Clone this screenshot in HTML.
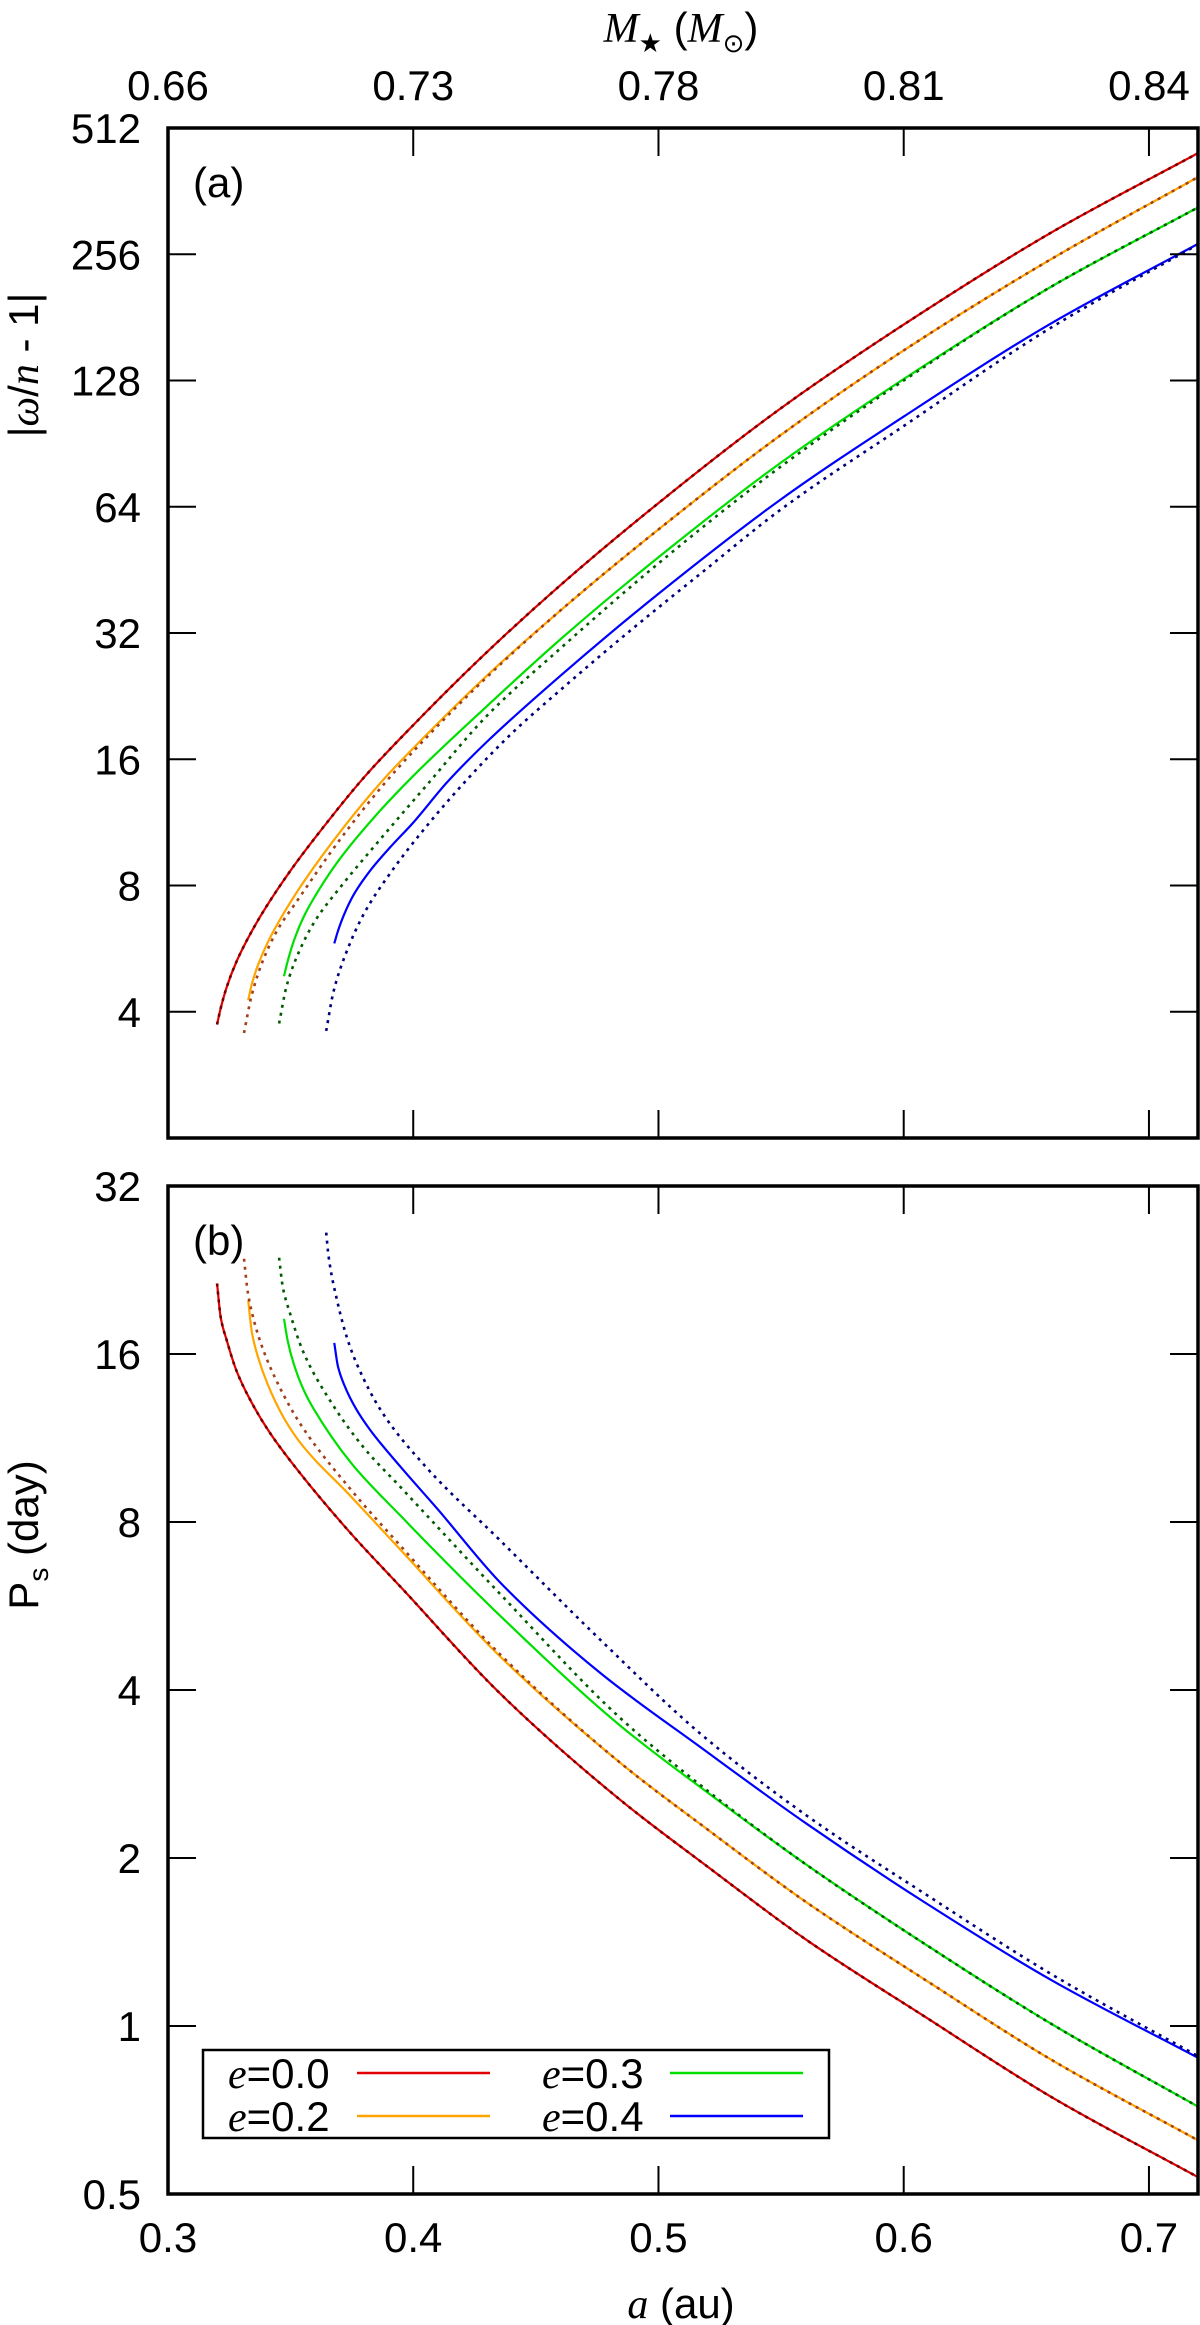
<!DOCTYPE html>
<html><head><meta charset="utf-8"><style>
html,body{margin:0;padding:0;background:#fff;}
svg{display:block;font-family:"Liberation Sans",sans-serif;}
.tk{font-size:42px;fill:#000;}
.it{font-family:"Liberation Serif","DejaVu Serif",serif;font-style:italic;}
</style></head><body>
<svg id="chart" width="1200" height="2325" viewBox="0 0 1200 2325" xmlns="http://www.w3.org/2000/svg">
<rect x="0" y="0" width="1200" height="2325" fill="#fff"/>
<g id="marks"></g>
<g id="axes"></g>
<text x="681" y="42" text-anchor="middle" font-size="42"><tspan class="it">M</tspan><tspan font-size="26" dy="10">★</tspan><tspan dy="-10"> (</tspan><tspan class="it">M</tspan><tspan font-size="26" dy="10">⊙</tspan><tspan dy="-10">)</tspan></text>
<text x="681" y="2318" text-anchor="middle" font-size="42"><tspan class="it">a</tspan> (au)</text>
<text transform="translate(38,365) rotate(-90)" text-anchor="middle" font-size="42">|<tspan class="it">ω</tspan>/<tspan class="it">n</tspan> - 1|</text>
<text transform="translate(38,1535) rotate(-90)" text-anchor="middle" font-size="42">P<tspan font-size="28" dy="10">s</tspan><tspan dy="-10"> (day)</tspan></text>
<text x="193" y="197" font-size="42">(a)</text>
<text x="193" y="1255" font-size="42">(b)</text>
<g>
<rect x="203" y="2050" width="626" height="88" fill="#fff" stroke="#000" stroke-width="2.5"/>
<text x="228" y="2088" font-size="42"><tspan class="it">e</tspan>=0.0</text>
<line x1="357" y1="2073" x2="490" y2="2073" stroke="#e00000" stroke-width="2.5"/>
<text x="228" y="2131" font-size="42"><tspan class="it">e</tspan>=0.2</text>
<line x1="357" y1="2116" x2="490" y2="2116" stroke="#ffa500" stroke-width="2.5"/>
<text x="542" y="2088" font-size="42"><tspan class="it">e</tspan>=0.3</text>
<line x1="670" y1="2073" x2="803" y2="2073" stroke="#00e000" stroke-width="2.5"/>
<text x="542" y="2131" font-size="42"><tspan class="it">e</tspan>=0.4</text>
<line x1="670" y1="2116" x2="803" y2="2116" stroke="#0000ff" stroke-width="2.5"/>
</g>
</svg>
<script>
// ---- data ----
const xTicks = [0.3, 0.4, 0.5, 0.6, 0.7];
const xTickLabels = ["0.3", "0.4", "0.5", "0.6", "0.7"];
const topTickLabels = ["0.66", "0.73", "0.78", "0.81", "0.84"];
const yTicksA = [512, 256, 128, 64, 32, 16, 8, 4];
const yTicksB = [32, 16, 8, 4, 2, 1, 0.5];
// panel (a) |w/n-1|
const aRedA = [0.32, 0.3215, 0.324, 0.328, 0.3348, 0.34, 0.35, 0.36, 0.38, 0.40, 0.43, 0.46, 0.50, 0.55, 0.60, 0.66, 0.72];
const vRedA = [3.73, 4.08, 4.59, 5.28, 6.32, 7.11, 8.69, 10.4, 14.5, 19.3, 28.8, 41.6, 65.3, 110, 174, 288, 446];
const aOrangeA = [0.3327, 0.3342, 0.3367, 0.3407, 0.3475, 0.355, 0.372, 0.3878, 0.40, 0.43, 0.46, 0.50, 0.55, 0.60, 0.66, 0.72];
const vOrangeA = [4.26, 4.66, 5.17, 5.86, 6.92, 8.11, 11.08, 14.3, 17.0, 25.3, 36.2, 56.5, 95, 151, 249, 391];
const aOrangeDotA = [0.331, 0.334, 0.339, 0.345, 0.352, 0.37, 0.3878, 0.40, 0.43, 0.46, 0.50, 0.55, 0.60, 0.66, 0.72];
const vOrangeDotA = [3.56, 4.35, 5.35, 6.32, 7.26, 10.27, 13.9, 16.7, 25.1, 36.2, 56.5, 95, 151, 249, 391];
const aGreenA = [0.3473, 0.3488, 0.3513, 0.3553, 0.362, 0.37, 0.385, 0.40, 0.43, 0.46, 0.50, 0.55, 0.60, 0.66, 0.72];
const vGreenA = [4.86, 5.28, 5.90, 6.73, 7.89, 9.25, 11.8, 14.6, 21.4, 30.9, 48.5, 81.6, 129, 214, 331];
const aGreenDotA = [0.3453, 0.3483, 0.3533, 0.36, 0.37, 0.385, 0.4056, 0.43, 0.46, 0.50, 0.55, 0.60, 0.66, 0.72];
const vGreenDotA = [3.75, 4.59, 5.54, 6.59, 7.89, 10.06, 13.9, 20.3, 29.4, 46.9, 79.9, 128, 214, 331];
const aBlueA = [0.3678, 0.3693, 0.3718, 0.3758, 0.3825, 0.39, 0.40, 0.4138, 0.43, 0.46, 0.50, 0.55, 0.60, 0.66, 0.72];
const vBlueA = [5.82, 6.23, 6.82, 7.62, 8.69, 9.78, 11.3, 14.1, 17.6, 25.3, 39.7, 66.7, 105, 175, 271];
const aBlueDotA = [0.3645, 0.3675, 0.3725, 0.38, 0.39, 0.405, 0.4219, 0.44, 0.46, 0.4898, 0.5171, 0.55, 0.60, 0.66, 0.72];
const vBlueDotA = [3.6, 4.47, 5.50, 6.87, 8.46, 11.0, 14.3, 18.4, 23.4, 32.9, 44.3, 63.1, 99.7, 171, 270];
// panel (b) Ps (day)
const aRedB = [0.32, 0.3215, 0.324, 0.328, 0.3345, 0.3416, 0.3539, 0.3747, 0.3947, 0.4355, 0.4845, 0.52, 0.56, 0.61, 0.66, 0.72];
const vRedB = [21.4, 18.6, 16.9, 14.9, 13.0, 11.55, 9.78, 7.62, 6.13, 3.94, 2.54, 1.93, 1.43, 1.03, 0.747, 0.536];
const aOrangeB = [0.3327, 0.3342, 0.3367, 0.3407, 0.3472, 0.3539, 0.3747, 0.3947, 0.4355, 0.4845, 0.52, 0.56, 0.61, 0.66, 0.72];
const vOrangeB = [19.97, 17.5, 15.8, 14.1, 12.3, 11.1, 8.88, 7.14, 4.59, 2.96, 2.25, 1.67, 1.20, 0.871, 0.624];
const aOrangeDotB = [0.331, 0.3325, 0.335, 0.339, 0.345, 0.3539, 0.3747, 0.3947, 0.4355, 0.4845, 0.52, 0.56, 0.61, 0.66, 0.72];
const vOrangeDotB = [23.7, 20.7, 18.4, 16.2, 14.1, 12.0, 9.13, 7.26, 4.63, 2.96, 2.25, 1.67, 1.20, 0.871, 0.624];
const aGreenB = [0.3473, 0.3488, 0.3513, 0.3553, 0.3592, 0.3747, 0.3947, 0.4355, 0.4845, 0.52, 0.56, 0.61, 0.66, 0.72];
const vGreenB = [18.5, 16.9, 15.35, 13.8, 12.8, 10.2, 8.22, 5.43, 3.45, 2.62, 1.95, 1.39, 1.01, 0.717];
const aGreenDotB = [0.3453, 0.3468, 0.3498, 0.355, 0.3661, 0.38, 0.3947, 0.4355, 0.4845, 0.52, 0.56, 0.61, 0.66, 0.72];
const vGreenDotB = [23.8, 21.1, 18.9, 16.2, 13.2, 10.85, 9.25, 5.94, 3.56, 2.64, 1.95, 1.39, 1.01, 0.717];
const aBlueB = [0.3678, 0.3693, 0.3718, 0.3765, 0.3824, 0.3947, 0.4097, 0.4355, 0.4763, 0.5171, 0.56, 0.61, 0.66, 0.72];
const vBlueB = [16.75, 15.2, 14.1, 12.8, 11.7, 10.06, 8.46, 6.23, 4.29, 3.16, 2.31, 1.65, 1.21, 0.877];
const aBlueDotB = [0.3645, 0.3655, 0.3689, 0.373, 0.377, 0.3872, 0.405, 0.4355, 0.4763, 0.5171, 0.56, 0.61, 0.66, 0.72];
const vBlueDotB = [26.4, 23.9, 20.0, 17.1, 15.35, 12.6, 10.06, 7.41, 4.92, 3.34, 2.39, 1.71, 1.24, 0.883];

// ---- geometry ----
const L = 168, R = 1198, XMIN = 0.3, XMAX = 0.72;
const PA = {top: 128, bottom: 1138, ymin: 2, ymax: 512};
const PB = {top: 1186, bottom: 2194, ymin: 0.5, ymax: 32};
const NS = "http://www.w3.org/2000/svg";
function xs(a) { return L + (a - XMIN) / (XMAX - XMIN) * (R - L); }
function ys(p, v) { return p.bottom - (Math.log2(v) - Math.log2(p.ymin)) / (Math.log2(p.ymax) - Math.log2(p.ymin)) * (p.bottom - p.top); }
function mk(tag, attrs, parent) {
  const e = document.createElementNS(NS, tag);
  for (const k in attrs) e.setAttribute(k, attrs[k]);
  parent.appendChild(e);
  return e;
}
// monotone cubic (Fritsch-Carlson) through points in pixel space
function pathD(p, xa, va) {
  const X = xa.map(xs), Y = va.map(v => ys(p, v));
  const n = X.length, d = [], m = new Array(n);
  for (let i = 0; i < n - 1; i++) d.push((Y[i + 1] - Y[i]) / (X[i + 1] - X[i]));
  m[0] = d[0]; m[n - 1] = d[n - 2];
  for (let i = 1; i < n - 1; i++) {
    if (d[i - 1] * d[i] <= 0) m[i] = 0;
    else {
      const h0 = X[i] - X[i - 1], h1 = X[i + 1] - X[i];
      const w1 = 2 * h1 + h0, w2 = h1 + 2 * h0;
      m[i] = (w1 + w2) / (w1 / d[i - 1] + w2 / d[i]);
    }
  }
  let s = "M" + X[0].toFixed(2) + "," + Y[0].toFixed(2);
  for (let i = 0; i < n - 1; i++) {
    const h = X[i + 1] - X[i];
    s += " C" + (X[i] + h / 3).toFixed(2) + "," + (Y[i] + m[i] * h / 3).toFixed(2) + " " +
      (X[i + 1] - h / 3).toFixed(2) + "," + (Y[i + 1] - m[i + 1] * h / 3).toFixed(2) + " " +
      X[i + 1].toFixed(2) + "," + Y[i + 1].toFixed(2);
  }
  return s;
}
const marks = document.getElementById("marks");
const axes = document.getElementById("axes");
function series(p, xa, va, color, dotted, name) {
  const el = mk("path", {d: pathD(p, xa, va), fill: "none", stroke: color, "stroke-width": dotted ? 2.6 : 2.2, "stroke-dasharray": dotted ? "3,5" : "none"}, marks);
  
  
}
// panel a
series(PA, aRedA, vRedA, "#e00000", false, "curve-a-e00");
series(PA, aRedA, vRedA, "#700000", true, "curve-a-e00-dotted");
series(PA, aOrangeA, vOrangeA, "#ffa500", false, "curve-a-e02");
series(PA, aOrangeDotA, vOrangeDotA, "#a0401a", true, "curve-a-e02-dotted");
series(PA, aGreenA, vGreenA, "#00e000", false, "curve-a-e03");
series(PA, aGreenDotA, vGreenDotA, "#005a00", true, "curve-a-e03-dotted");
series(PA, aBlueA, vBlueA, "#0000ff", false, "curve-a-e04");
series(PA, aBlueDotA, vBlueDotA, "#00007a", true, "curve-a-e04-dotted");
// panel b
series(PB, aRedB, vRedB, "#e00000", false, "curve-b-e00");
series(PB, aRedB, vRedB, "#700000", true, "curve-b-e00-dotted");
series(PB, aOrangeB, vOrangeB, "#ffa500", false, "curve-b-e02");
series(PB, aOrangeDotB, vOrangeDotB, "#a0401a", true, "curve-b-e02-dotted");
series(PB, aGreenB, vGreenB, "#00e000", false, "curve-b-e03");
series(PB, aGreenDotB, vGreenDotB, "#005a00", true, "curve-b-e03-dotted");
series(PB, aBlueB, vBlueB, "#0000ff", false, "curve-b-e04");
series(PB, aBlueDotB, vBlueDotB, "#00007a", true, "curve-b-e04-dotted");

// ---- axes ----
const TL = 28;
function panelAxes(p, yt, tag, showTop, showBottom) {
  const fr = mk("rect", {x: L, y: p.top, width: R - L, height: p.bottom - p.top, fill: "none", stroke: "#000", "stroke-width": 3.5}, axes);
  
  
  xTicks.forEach((t, i) => {
    const x = xs(t);
    const b = mk("line", {x1: x, y1: p.bottom, x2: x, y2: p.bottom - TL, stroke: "#000", "stroke-width": 2}, axes);
    
    
    const u = mk("line", {x1: x, y1: p.top, x2: x, y2: p.top + TL, stroke: "#000", "stroke-width": 2}, axes);
    
    
    if (showBottom) {
      const tx = mk("text", {x: x, y: p.bottom + 58, "text-anchor": "middle", class: "tk"}, axes);
      tx.textContent = xTickLabels[i];
      
      
    }
    if (showTop) {
      const tt = mk("text", {x: x, y: p.top - 28, "text-anchor": "middle", class: "tk"}, axes);
      tt.textContent = topTickLabels[i];
      
      
    }
  });
  yt.forEach(v => {
    const y = ys(p, v);
    const a = mk("line", {x1: L, y1: y, x2: L + TL, y2: y, stroke: "#000", "stroke-width": 2}, axes);
    
    
    const b = mk("line", {x1: R, y1: y, x2: R - TL, y2: y, stroke: "#000", "stroke-width": 2}, axes);
    
    
    const t = mk("text", {x: 141, y: y + 15, "text-anchor": "end", class: "tk"}, axes);
    t.textContent = String(v);
    
    
  });
}
panelAxes(PA, yTicksA, "a", true, false);
panelAxes(PB, yTicksB, "b", false, true);
</script>
</body></html>
